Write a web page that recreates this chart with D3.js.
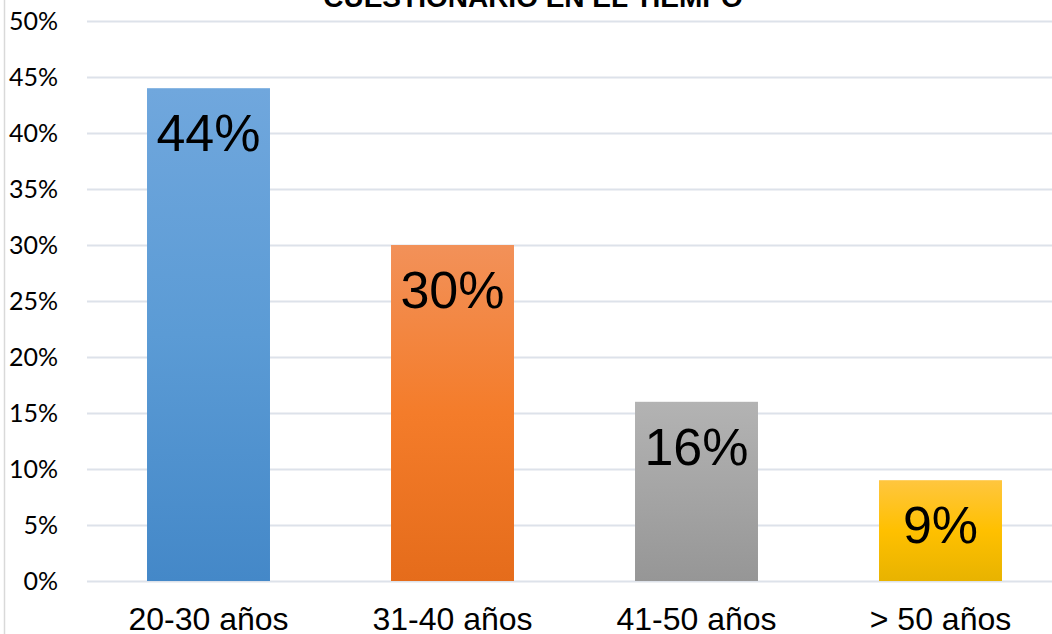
<!DOCTYPE html>
<html><head><meta charset="utf-8">
<script src="https://cdn.jsdelivr.net/npm/d3@7"></script>
<style>
html,body{margin:0;padding:0;background:#fff;overflow:hidden;}
</style></head>
<body>
<svg id="chart" width="1052" height="634"></svg>
<script>
const title = "CUESTIONARIO EN EL TIEMPO";
const categories = ["20-30 años", "31-40 años", "41-50 años", "> 50 años"];
const values = [0.44, 0.30, 0.16, 0.09];
const labels = ["44%", "30%", "16%", "9%"];
const yTicks = [0, 0.05, 0.10, 0.15, 0.20, 0.25, 0.30, 0.35, 0.40, 0.45, 0.50];
const gradients = [
  ["#70a7dd", "#5b9bd5", "#4488c8"],
  ["#f29159", "#f47c2a", "#e56c1b"],
  ["#b3b3b3", "#a5a5a5", "#969696"],
  ["#ffc63f", "#ffc000", "#e8b300"]
];

const svg = d3.select("#chart");
const W = 1052, H = 634;

const x = d3.scaleBand().domain(categories).range([86.5, 1062.5]).paddingInner(0.496).paddingOuter(0.248);
const y = d3.scaleLinear().domain([0, 0.5]).range([581, 21]);

// left border
svg.append("line").attr("x1", 4.5).attr("x2", 4.5).attr("y1", 0).attr("y2", H)
  .attr("stroke", "#d9d9d9").attr("stroke-width", 1.5);

// defs gradients
const defs = svg.append("defs");
gradients.forEach((g, i) => {
  const lg = defs.append("linearGradient").attr("id", "g" + i)
    .attr("x1", 0).attr("y1", 0).attr("x2", 0).attr("y2", 1);
  lg.append("stop").attr("offset", "0%").attr("stop-color", g[0]);
  lg.append("stop").attr("offset", "50%").attr("stop-color", g[1]);
  lg.append("stop").attr("offset", "100%").attr("stop-color", g[2]);
});

// y axis with gridlines
const yAxis = d3.axisLeft(y).tickValues(yTicks).tickFormat(d3.format(".0%"))
  .tickSize(-(W - 87)).tickPadding(29);
const gy = svg.append("g").attr("transform", "translate(87,0)").call(yAxis);
gy.select(".domain").remove();
gy.selectAll(".tick line").attr("stroke", "#dde2ea").attr("stroke-width", 2);
gy.selectAll(".tick text").attr("fill", "#000").attr("font-family", "Lato, 'Open Sans', sans-serif")
  .attr("font-size", 25).attr("dy", "0.34em");

// bars
svg.append("g").selectAll("rect").data(values).join("rect")
  .attr("x", (d, i) => x(categories[i]))
  .attr("y", d => y(d))
  .attr("width", x.bandwidth())
  .attr("height", d => y(0) - y(d))
  .attr("fill", (d, i) => `url(#g${i})`);

// data labels
svg.append("g").selectAll("text").data(values).join("text")
  .attr("x", (d, i) => x(categories[i]) + x.bandwidth() / 2)
  .attr("y", d => y(d) + 63)
  .attr("text-anchor", "middle")
  .attr("font-family", "'Liberation Sans', Arial, sans-serif")
  .attr("font-size", 52)
  .attr("fill", "#000")
  .text((d, i) => labels[i]);

// x axis
const xAxis = d3.axisBottom(x).tickSize(0).tickPadding(0);
const gx = svg.append("g").attr("transform", "translate(0,581)").call(xAxis);
gx.select(".domain").remove();
gx.selectAll(".tick text").attr("fill", "#000").attr("font-family", "'Liberation Sans', Arial, sans-serif")
  .attr("font-size", 32).attr("dy", null).attr("y", 49);

// title
svg.append("text").attr("x", 533).attr("y", 7).attr("text-anchor", "middle")
  .attr("font-family", "'Liberation Sans', Arial, sans-serif").attr("font-weight", "bold")
  .attr("font-size", 28).attr("fill", "#000").text(title);
</script>
</body></html>
